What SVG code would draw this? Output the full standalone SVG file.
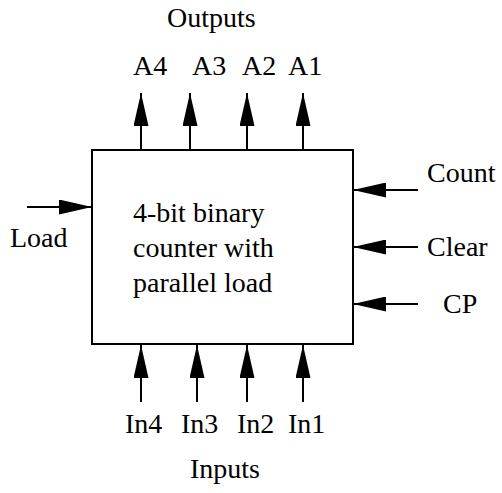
<svg xmlns="http://www.w3.org/2000/svg" width="502" height="493" viewBox="0 0 502 493" font-family="Liberation Serif, Times New Roman, Times, DejaVu Serif, serif" font-size="28">
<style>
text{font-family:'Liberation Serif','Times New Roman',Times,'DejaVu Serif',serif;font-size:28px;fill:#000}
.w{stroke:#000;stroke-width:2;fill:none}
</style>
<defs>
<marker id="ah" markerUnits="userSpaceOnUse" markerWidth="33" markerHeight="15" refX="33" refY="7.5" orient="auto">
<path d="M0,0 L33,7.5 L0,15 z" fill="#000"/>
</marker>
</defs>
<rect width="502" height="493" fill="#fff"/>
<g id="counter">
<rect x="92" y="150" width="261" height="194" class="w"/>
<text x="133" y="222">4-bit binary</text>
<text x="133" y="257">counter with</text>
<text x="133" y="292">parallel load</text>
</g>
<g id="connectors" class="w" marker-end="url(#ah)">
<line x1="141" y1="150" x2="141" y2="93"/>
<line x1="190" y1="150" x2="190" y2="93"/>
<line x1="247" y1="150" x2="247" y2="93"/>
<line x1="303" y1="150" x2="303" y2="93"/>
<line x1="141" y1="402" x2="141" y2="345"/>
<line x1="197" y1="402" x2="197" y2="345"/>
<line x1="247" y1="402" x2="247" y2="345"/>
<line x1="303" y1="402" x2="303" y2="345"/>
<line x1="27" y1="207" x2="92" y2="207"/>
<line x1="418" y1="190" x2="353" y2="190"/>
<line x1="418" y1="247" x2="353" y2="247"/>
<line x1="418" y1="304" x2="353" y2="304"/>
</g>
<g id="outputs">
<text x="167" y="27">Outputs</text>
<text x="133" y="75">A4</text>
<text x="192" y="75">A3</text>
<text x="242" y="75">A2</text>
<text x="288" y="75">A1</text>
</g>
<g id="inputs">
<text x="125" y="433">In4</text>
<text x="181" y="433">In3</text>
<text x="237" y="433">In2</text>
<text x="288" y="433">In1</text>
<text x="190" y="478">Inputs</text>
</g>
<g id="load"><text x="10" y="247">Load</text></g>
<g id="count"><text x="427" y="182">Count</text></g>
<g id="clear"><text x="427" y="256">Clear</text></g>
<g id="cp"><text x="443" y="313">CP</text></g>
</svg>
